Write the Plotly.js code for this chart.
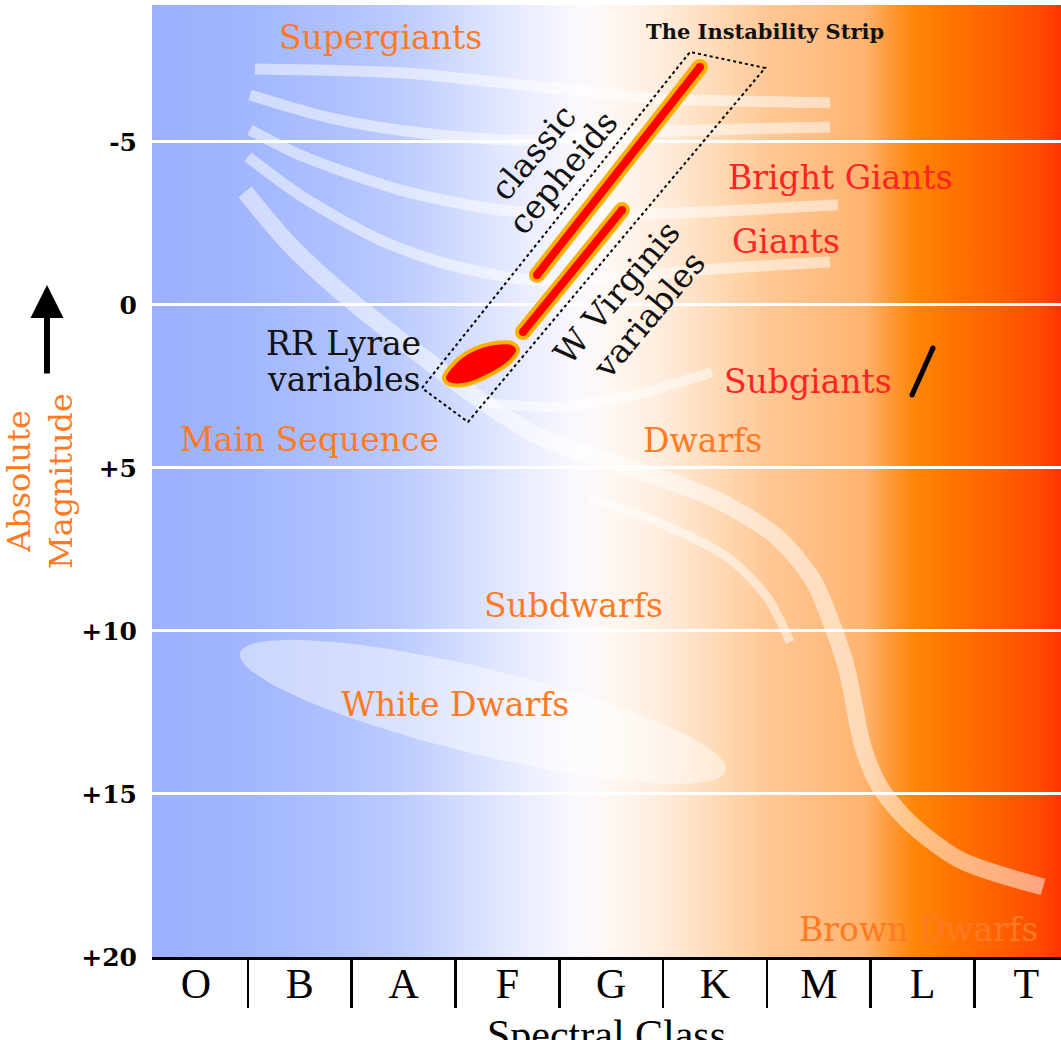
<!DOCTYPE html>
<html><head><meta charset="utf-8">
<script src="https://cdn.plot.ly/plotly-3.0.1.min.js"></script>
<style>html,body{margin:0;padding:0;overflow:hidden;background:#fff}#wrap{width:1061px;height:1040px;overflow:hidden;position:relative}#chart{width:1061px;height:1075px}</style>
</head><body><div id="wrap"><div id="chart"></div></div>
<script>
// ---- axis data ----
const categories = ['O','B','A','F','G','K','M','L','T'];
const classBoundaries = [0.5,1.5,2.5,3.5,4.5,5.5,6.5,7.5];
const magTicks = [-5,0,5,10,15,20];
const magTickText = ['-5','0','+5','+10','+15','+20'];
const xRange = [-0.424, 8.333];
const yRange = [20, -9.2];

// ---- background colour stops (spectral-class position, colour) ----
const bgStopX = [-0.424,0.376,1.291,1.965,2.640,3.218,3.699,4.085,4.566,5.048,5.530,6.108,6.445,6.686,6.927,7.264,7.746,8.131,8.333];
const bgStopColor = ['#9bb1fe','#a0b5fe','#adc0ff','#bccbff','#d6dfff','#eceeff','#fbf9fd','#fff6ef','#ffead8','#ffd9b4','#ffc794','#ffbb7e','#ffb36e','#ff9a38','#ff8608','#ff7400','#ff6000','#ff4a00','#ff3300'];

// ---- star sequences (class, absolute magnitude) ----
const superA_x = [0.568,1.965,3.410,4.374,6.108];
const superA_y = [-7.24,-7.12,-6.66,-6.35,-6.20];
const superB_x = [0.520,1.291,2.158,3.121,4.374,6.108];
const superB_y = [-6.44,-5.74,-5.28,-5.06,-5.31,-5.46];
const brightG_x = [0.520,1.002,1.965,2.929,3.892,4.855,6.185];
const brightG_y = [-5.37,-4.60,-3.53,-2.91,-2.76,-2.85,-3.07];
const giants_x = [0.501,1.002,1.773,2.447,3.218,4.085,4.855,6.108];
const giants_y = [-4.54,-3.37,-1.99,-1.23,-0.77,-0.83,-1.07,-1.32];
const mainSeq_x = [0.472,0.906,1.484,2.158,2.736,3.314,3.892,4.374,5.019,5.597,5.944,6.137,6.272,6.426,6.590,6.879,7.360,8.160];
const mainSeq_y = [-3.47,-1.84,-0.15,1.53,2.91,4.05,4.69,5.21,5.98,7.12,8.44,9.88,11.20,13.56,14.79,15.89,17.02,17.85];
const subgiant_x = [2.736,3.439,4.181,4.971];
const subgiant_y = [2.98,3.13,2.79,2.06];
const subdwarf_x = [3.796,4.470,5.116,5.501,5.723];
const subdwarf_y = [5.92,6.69,7.73,8.96,10.34];
const whiteDwarf = {cx: 2.765, cy: 12.48, semiMajorPx: 250, semiMinorPx: 43, tiltDeg: 13.6};

// ---- instability strip ----
const strip_x = [2.177,4.759,5.482,2.620,2.177];
const strip_y = [2.55,-7.76,-7.27,3.59,2.55];
const cepheid_x = [3.285,4.855];
const cepheid_y = [-0.92,-7.30];
const wvir_x = [3.150,4.104];
const wvir_y = [0.83,-2.91];
const rrlyr_x = [2.389,2.495,2.659,2.881,3.044,3.102,3.025,2.832,2.592,2.428,2.389];
const rrlyr_y = [2.24,1.75,1.38,1.17,1.17,1.38,1.75,2.15,2.45,2.42,2.24];
const slash_x = [7.100,6.898];
const slash_y = [1.32,2.76];

// ---- labels ----
const ORANGE = '#ff7a22', RED = '#ff2424', BLACK = '#111111';
const labels = [
  {t:'Supergiants', x:1.773, y:-8.19, c:ORANGE, s:33, a:0},
  {t:'Bright Giants', x:6.204, y:-3.90, c:RED, s:33, a:0},
  {t:'Giants', x:5.684, y:-1.96, c:RED, s:33, a:0},
  {t:'Subgiants', x:5.896, y:2.36, c:RED, s:33, a:0},
  {t:'Main Sequence', x:1.098, y:4.14, c:ORANGE, s:33, a:0},
  {t:'Dwarfs', x:4.875, y:4.17, c:ORANGE, s:33, a:0},
  {t:'Subdwarfs', x:3.632, y:9.23, c:ORANGE, s:33, a:0},
  {t:'White Dwarfs', x:2.495, y:12.27, c:ORANGE, s:33, a:0},
  {t:'Brown Dwarfs', x:6.956, y:19.17, c:ORANGE, s:33, a:0},
  {t:'RR Lyrae', x:1.416, y:1.17, c:BLACK, s:33, a:0},
  {t:'variables', x:1.416, y:2.30, c:BLACK, s:33, a:0},
  {t:'classic', x:3.247, y:-4.69, c:BLACK, s:33, a:-50},
  {t:'cepheids', x:3.536, y:-4.05, c:BLACK, s:33, a:-50},
  {t:'W Virginis', x:4.056, y:-0.37, c:BLACK, s:33, a:-50},
  {t:'variables', x:4.355, y:0.31, c:BLACK, s:33, a:-50},
  {t:'<b>The Instability Strip</b>', x:5.482, y:-8.40, c:BLACK, s:21, a:0}
];

// ---- layout geometry ----
const W = 1061, H = 1075, M = {l:152, r:0, t:5, b:118};
const pxPerClass = (W - M.l - M.r) / (xRange[1] - xRange[0]);
const pxPerMag = (H - M.t - M.b) / (yRange[0] - yRange[1]);

// white dwarf ellipse outline
const wdX = [], wdY = [];
{
  const th = whiteDwarf.tiltDeg * Math.PI / 180;
  for (let i = 0; i <= 72; i++) {
    const t = i / 72 * 2 * Math.PI;
    const dx = whiteDwarf.semiMajorPx * Math.cos(t) * Math.cos(th) - whiteDwarf.semiMinorPx * Math.sin(t) * Math.sin(th);
    const dy = whiteDwarf.semiMajorPx * Math.cos(t) * Math.sin(th) + whiteDwarf.semiMinorPx * Math.sin(t) * Math.cos(th);
    wdX.push(whiteDwarf.cx + dx / pxPerClass);
    wdY.push(whiteDwarf.cy + dy / pxPerMag);
  }
}

// gradient image
const span = xRange[1] - xRange[0];
let stops = '';
bgStopX.forEach((x, i) => {
  stops += "<stop offset='" + ((x - xRange[0]) / span).toFixed(4) + "' stop-color='" + bgStopColor[i] + "'/>";
});
const svg = "<svg xmlns='http://www.w3.org/2000/svg' width='1000' height='100' viewBox='0 0 1000 100' preserveAspectRatio='none'><defs><linearGradient id='g' x1='0' y1='0' x2='1' y2='0'>" + stops + "</linearGradient></defs><rect x='0' y='0' width='1000' height='100' fill='url(#g)'/></svg>";
const bgSrc = 'data:image/svg+xml;charset=utf-8,' + encodeURIComponent(svg);

const BAND = 'rgba(255,255,255,0.5)';
function band(x, y, w) {
  return {x, y, type:'scatter', mode:'lines', line:{color:BAND, width:w, shape:'spline', smoothing:0.8}, hoverinfo:'skip', showlegend:false};
}
const traces = [
  {x:wdX, y:wdY, type:'scatter', mode:'lines', fill:'toself', fillcolor:'rgba(255,255,255,0.45)', line:{width:0, color:'rgba(0,0,0,0)'}, hoverinfo:'skip', showlegend:false},
  band(superA_x, superA_y, 11),
  band(superB_x, superB_y, 11),
  band(brightG_x, brightG_y, 11),
  band(giants_x, giants_y, 11),
  band(subgiant_x, subgiant_y, 10),
  band(subdwarf_x, subdwarf_y, 9),
  band(mainSeq_x, mainSeq_y, 17),
  {x:strip_x, y:strip_y, type:'scatter', mode:'lines', line:{color:'#000', width:2, dash:'dot'}, hoverinfo:'skip', showlegend:false},
  {x:cepheid_x, y:cepheid_y, type:'scatter', mode:'lines+markers', line:{color:'#ffb000', width:16}, marker:{color:'#ffb000', size:16}, hoverinfo:'skip', showlegend:false},
  {x:cepheid_x, y:cepheid_y, type:'scatter', mode:'lines+markers', line:{color:'#ff0000', width:8}, marker:{color:'#ff0000', size:8}, hoverinfo:'skip', showlegend:false},
  {x:wvir_x, y:wvir_y, type:'scatter', mode:'lines+markers', line:{color:'#ffb000', width:16}, marker:{color:'#ffb000', size:16}, hoverinfo:'skip', showlegend:false},
  {x:wvir_x, y:wvir_y, type:'scatter', mode:'lines+markers', line:{color:'#ff0000', width:8}, marker:{color:'#ff0000', size:8}, hoverinfo:'skip', showlegend:false},
  {x:rrlyr_x, y:rrlyr_y, type:'scatter', mode:'lines', fill:'toself', fillcolor:'#ff0000', line:{color:'#ffb000', width:4, shape:'spline'}, hoverinfo:'skip', showlegend:false},
  {x:slash_x, y:slash_y, type:'scatter', mode:'lines+markers', line:{color:'#000', width:5}, marker:{color:'#000', size:5}, hoverinfo:'skip', showlegend:false}
];

const annotations = labels.map(l => ({
  x:l.x, y:l.y, xref:'x', yref:'y', text:l.t, showarrow:false, textangle:l.a,
  xanchor:'center', yanchor:'middle', font:{family:'DejaVu Serif', size:l.s, color:l.c}
}));
annotations.push({
  xref:'paper', yref:'paper', x:(47 - M.l) / (W - M.l - M.r), y:(H - M.b - 285) / (H - M.t - M.b),
  text:'', showarrow:true, ax:0, ay:90, arrowhead:2, arrowsize:1.1, arrowwidth:6, arrowcolor:'#000'
});

const layout = {
  width:W, height:H, margin:M,
  paper_bgcolor:'#ffffff', plot_bgcolor:'#9bb1fe',
  showlegend:false,
  images:[{source:bgSrc, xref:'paper', yref:'paper', x:0, y:1, sizex:1, sizey:1, xanchor:'left', yanchor:'top', sizing:'stretch', layer:'below'}],
  xaxis:{
    range:xRange, autorange:false, showgrid:false, zeroline:false,
    tickmode:'array', tickvals:categories.map((c, i) => i), ticktext:categories,
    ticks:'', ticklabelstandoff:-12,
    tickfont:{family:'Liberation Serif', size:42, color:'#000'},
    showline:true, linecolor:'#000', linewidth:3,
    minor:{tickmode:'array', tickvals:classBoundaries, ticks:'outside', ticklen:48, tickwidth:2.5, tickcolor:'#000', showgrid:false},
    title:{text:'Spectral Class', font:{family:'Liberation Serif', size:42, color:'#000'}, standoff:14}
  },
  yaxis:{
    range:yRange, autorange:false, zeroline:false,
    tickmode:'array', tickvals:magTicks, ticktext:magTickText,
    ticks:'', ticklabelstandoff:14,
    tickfont:{family:'DejaVu Serif', size:25, color:'#000', weight:'bold'},
    showgrid:true, gridcolor:'#ffffff', gridwidth:3,
    showline:false,
    title:{text:'Absolute<br>Magnitude', font:{family:'DejaVu Serif', size:32, color:ORANGE}, standoff:4}
  },
  annotations
};

Plotly.newPlot('chart', traces, layout, {staticPlot:true, displayModeBar:false});
</script></body></html>
